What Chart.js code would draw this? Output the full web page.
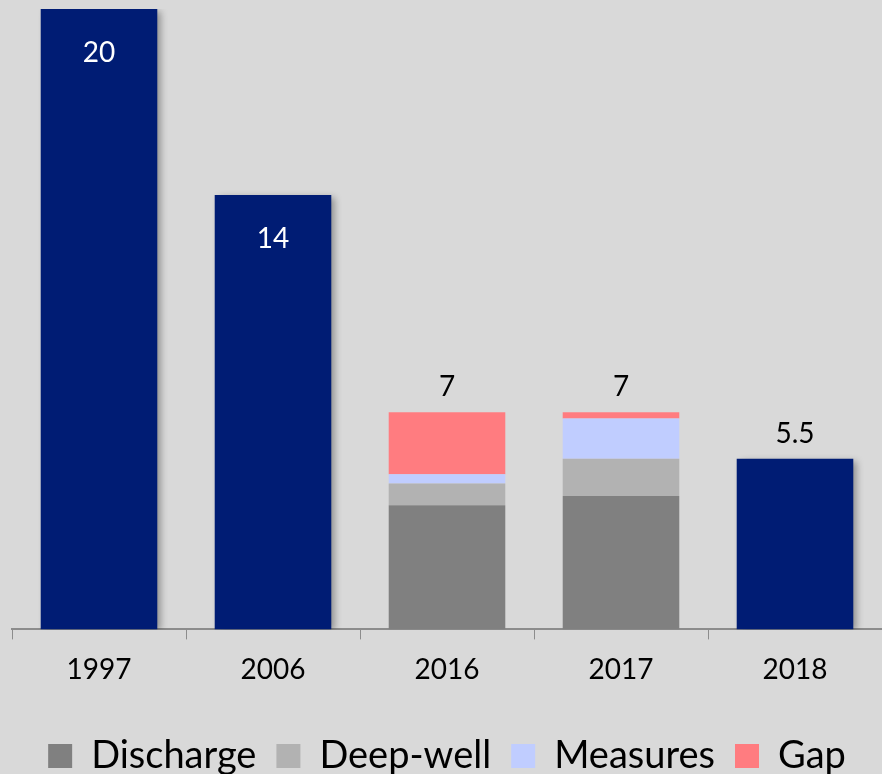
<!DOCTYPE html>
<html>
<head>
<meta charset="utf-8">
<script src="https://cdn.jsdelivr.net/npm/chart.js@4/dist/chart.umd.min.js"></script>
<style>
  html, body { margin: 0; padding: 0; background: #d9d9d9; }
  #wrap { width: 882px; height: 774px; }
</style>
</head>
<body>
<div id="wrap"><canvas id="myChart" width="882" height="774"></canvas></div>
<script>
// categories and values
const years = ['1997', '2006', '2016', '2017', '2018'];
const total = [20, 14, null, null, 5.5];
const discharge = [null, null, 4.0, 4.3, null];
const deepWell = [null, null, 0.7, 1.2, null];
const measures = [null, null, 0.3, 1.3, null];
const gap = [null, null, 2.0, 0.2, null];
const valueLabels = ['20', '14', '7', '7', '5.5'];

const FONT = 'Lato, "Open Sans", sans-serif';

// soft shadow behind the navy bars
const shadowPlugin = {
    id: 'barShadow',
    beforeDatasetDraw(chart, args) {
        if (args.index !== 0) return;
        const ctx = chart.ctx;
        ctx.save();
        ctx.shadowColor = 'rgba(0,0,0,0.35)';
        ctx.shadowBlur = 7;
        ctx.shadowOffsetX = 4;
        ctx.shadowOffsetY = 2;
    },
    afterDatasetDraw(chart, args) {
        if (args.index !== 0) return;
        chart.ctx.restore();
    }
};

// value labels: white inside tall bars, black above the others
const labelPlugin = {
    id: 'valueLabels',
    afterDatasetsDraw(chart) {
        const ctx = chart.ctx;
        const y = chart.scales.y;
        ctx.save();
        ctx.font = '28px ' + FONT;
        ctx.textAlign = 'center';
        ctx.textBaseline = 'middle';
        years.forEach((yr, i) => {
            let sum = 0;
            chart.data.datasets.forEach(ds => { sum += ds.data[i] || 0; });
            const x = chart.getDatasetMeta(0).data[i].x;
            const top = y.getPixelForValue(sum);
            if (sum > 10) {
                ctx.fillStyle = '#ffffff';
                ctx.fillText(valueLabels[i], x, top + 44);
            } else {
                ctx.fillStyle = '#000000';
                ctx.fillText(valueLabels[i], x, top - 25);
            }
        });
        ctx.restore();
    }
};

const ctx = document.getElementById('myChart').getContext('2d');
const myChart = new Chart(ctx, {
    type: 'bar',
    data: {
        labels: years,
        datasets: [
            { label: 'Total', data: total, backgroundColor: '#001c74' },
            { label: 'Discharge', data: discharge, backgroundColor: '#808080' },
            { label: 'Deep-well', data: deepWell, backgroundColor: '#b2b2b2' },
            { label: 'Measures', data: measures, backgroundColor: '#c0cdff' },
            { label: 'Gap', data: gap, backgroundColor: '#ff7c80' }
        ]
    },
    options: {
        responsive: false,
        animation: false,
        layout: { padding: { top: 9, left: 12, right: 0, bottom: -11 } },
        datasets: {
            bar: { categoryPercentage: 1.0, barPercentage: 0.67 }
        },
        scales: {
            x: {
                stacked: true,
                grid: {
                    display: true,
                    drawOnChartArea: false,
                    drawTicks: true,
                    tickLength: 10,
                    color: '#8c8c8c',
                    offset: true
                },
                border: { display: true, color: '#8c8c8c', width: 2 },
                ticks: {
                    color: '#000000',
                    padding: 14,
                    font: { family: FONT, size: 28 }
                },
                afterFit: scale => { scale.height += 16; }
            },
            y: {
                stacked: true,
                display: false,
                min: 0,
                max: 20
            }
        },
        plugins: {
            tooltip: { enabled: false },
            legend: {
                position: 'bottom',
                labels: {
                    filter: item => item.text !== 'Total',
                    color: '#000000',
                    boxWidth: 24,
                    boxHeight: 24,
                    padding: 20,
                    font: { family: FONT, size: 38 }
                }
            }
        }
    },
    plugins: [shadowPlugin, labelPlugin]
});
</script>
</body>
</html>
